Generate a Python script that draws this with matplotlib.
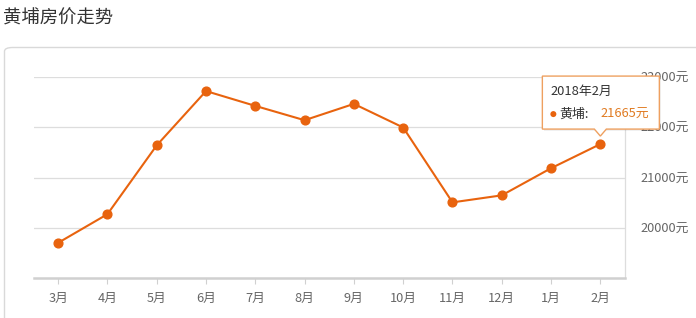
import matplotlib
matplotlib.use("Agg")
import matplotlib.pyplot as plt
from matplotlib.patches import FancyBboxPatch, Polygon, Circle

plt.rcParams["font.family"] = ["Noto Sans CJK SC", "DejaVu Sans"]

# data
months = ["3月", "4月", "5月", "6月", "7月", "8月", "9月", "10月", "11月", "12月", "1月", "2月"]
prices = [19700, 20270, 21640, 22720, 22425, 22140, 22465, 21995, 20505, 20645, 21185, 21665]
y_ticks = [20000, 21000, 22000, 23000]
title = "黄埔房价走势"
tip_date = "2018年2月"
tip_name = "黄埔:"

LINE = "#e8630e"
W, H = 696, 318

fig = plt.figure(figsize=(W / 100, H / 100), dpi=100)

# outer panel with rounded corner
panel = FancyBboxPatch((4.5 / W, -0.2), 1.2, (H - 47.5) / H + 0.2,
                       boxstyle="round,pad=0,rounding_size=0.012",
                       transform=fig.transFigure, fc="white", ec="#d9d9d9", lw=1, zorder=-5)
fig.patches.append(panel)
fig.text(3 / W, 1 - 19 / H, title, fontsize=13.2, color="#333333", va="center", ha="left")

ax = fig.add_axes([33.5 / W, (H - 278) / H, 591.5 / W, 201 / H])
ax.set_facecolor("none")
x = list(range(len(months)))
ax.plot(x, prices, color=LINE, lw=1.5, marker="o", ms=6.3, mec=LINE, mfc=LINE, zorder=3)

ax.set_xlim(-0.5, len(months) - 0.5)
ax.set_ylim(19000, 23000)
ax.set_xticks(x)
ax.set_xticklabels(months)
ax.set_yticks(y_ticks)
ax.set_yticklabels([f"{v}元" for v in y_ticks])
ax.yaxis.tick_right()
ax.grid(axis="y", color="#dddddd", lw=0.9)
ax.set_axisbelow(True)

for s in ["top", "left"]:
    ax.spines[s].set_visible(False)
ax.spines["right"].set_color("#dddddd")
ax.spines["right"].set_linewidth(0.9)
ax.spines["bottom"].set_color("#d0d0d0")
ax.spines["bottom"].set_linewidth(1.8)

ax.tick_params(axis="x", length=4, color="#d0d0d0", labelsize=9.2, labelcolor="#666666", pad=6)
ax.tick_params(axis="y", length=0, labelsize=9.2, labelcolor="#666666", pad=11)

# tooltip anchored above the last point
fig.canvas.draw()
px, py = ax.transData.transform((x[-1], prices[-1]))
tip_y = py + 8
bx0, bx1 = px - 58, px + 59
by0, by1 = tip_y + 7, tip_y + 60
shadow = Polygon([(bx0 + 1.5, by0 - 1.5), (bx1 + 1.5, by0 - 1.5), (bx1 + 1.5, by1 - 1.5), (bx0 + 1.5, by1 - 1.5)],
                 closed=True, transform=None, fc="#000000", alpha=0.06, ec="none", zorder=9)
box = Polygon([(bx0, by0), (px - 6, by0), (px, tip_y), (px + 6, by0), (bx1, by0),
               (bx1, by1), (bx0, by1)], closed=True, transform=None,
              fc="white", ec="#eea060", lw=1, zorder=10)
fig.patches.extend([shadow, box])
fig.text((bx0 + 8) / W, (by1 - 15) / H, tip_date, fontsize=9.3, color="#333333",
         va="center", ha="left", zorder=11)
fig.patches.append(Circle((bx0 + 11, by0 + 15), 3, transform=None, fc=LINE, ec="none", zorder=11))
fig.text((bx0 + 17) / W, (by0 + 15) / H, tip_name, fontsize=9.3, color="#333333",
         va="center", ha="left", zorder=11)
fig.text((bx0 + 58) / W, (by0 + 15) / H, f"{prices[-1]}元", fontsize=9.3, color="#e07b22",
         va="center", ha="left", zorder=11)

fig.savefig("out.png", dpi=100)
